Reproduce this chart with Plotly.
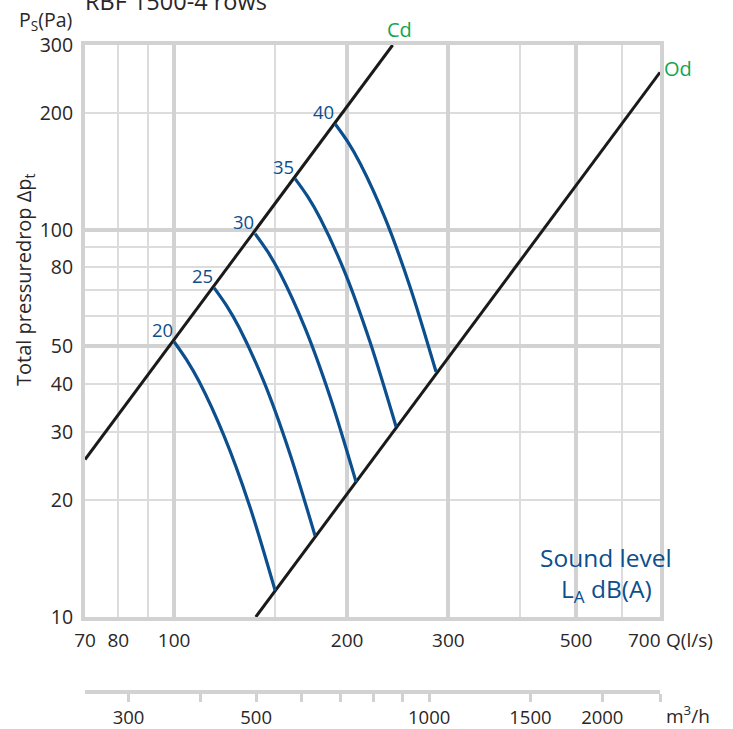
import math
import plotly.graph_objects as go

# ---------------- data ----------------
x_tick_vals = [70, 80, 100, 200, 300, 500]
x_tick_text = ["70", "80", "100", "200", "300", "500"]
x_last_tick = 700
y_tick_vals = [10, 20, 30, 40, 50, 80, 100, 200, 300]
y_tick_text = ["10", "20", "30", "40", "50", "80", "100", "200", "300"]
x_major_grid = [100, 200, 300, 500]
x_minor_grid = [80, 90, 150, 400, 600]
y_major_grid = [50, 100]
y_minor_grid = [20, 30, 40, 60, 70, 80, 90, 200]
m3h_label_vals = [300, 500, 1000, 1500, 2000]
m3h_label_text = ["300", "500", "1000", "1500", "2000"]
m3h_minor_ticks = [400, 600, 700, 800, 900, 2520]

cd_q = [70, 240]
cd_dp = [25.5, 300]
od_q = [138.7, 700]
od_dp = [10, 255]

levels = ["20", "25", "30", "35", "40"]
q_20 = [100.0, 105.1, 110.5, 122.2, 135.1, 149.9]
dp_20 = [51.4, 46.2, 40.6, 29.3, 19.5, 11.7]
q_25 = [117.4, 123.4, 129.7, 143.4, 158.5, 175.9]
dp_25 = [70.8, 63.7, 56.0, 40.4, 26.8, 16.2]
q_30 = [138.3, 145.4, 152.9, 169.0, 186.8, 207.3]
dp_30 = [97.7, 87.9, 77.2, 55.7, 37.0, 22.3]
q_35 = [162.3, 170.7, 179.5, 198.4, 219.2, 243.3]
dp_35 = [135.5, 121.9, 107.1, 77.3, 51.3, 31.0]
q_40 = [190.5, 200.3, 210.6, 232.8, 257.3, 285.5]
dp_40 = [187.9, 169.1, 148.5, 107.2, 71.2, 43.0]

curves_q = [q_20, q_25, q_30, q_35, q_40]
curves_dp = [dp_20, dp_25, dp_30, dp_35, dp_40]

# ---------------- styling ----------------
FONT = "Open Sans"
TXT = "#2a2627"
BLUE = "#0b4f8e"
GREEN = "#12a650"
GRID_THICK = "#d2d2d2"
GRID_THIN = "#dcdcdc"

x_range = [math.log10(70), math.log10(700)]
y_range = [math.log10(10), math.log10(300)]
m3h_factor = 3.6

fig = go.Figure()

fig.add_trace(go.Scatter(x=cd_q, y=cd_dp, mode="lines",
                         line=dict(color="#1a1a1a", width=3), hoverinfo="skip"))
fig.add_trace(go.Scatter(x=od_q, y=od_dp, mode="lines",
                         line=dict(color="#1a1a1a", width=3), hoverinfo="skip"))
for q, dp in zip(curves_q, curves_dp):
    fig.add_trace(go.Scatter(x=q, y=dp, mode="lines",
                             line=dict(color=BLUE, width=3.2, shape="spline", smoothing=0.9),
                             hoverinfo="skip"))

# invisible traces so the overlay axes are drawn
fig.add_trace(go.Scatter(x=[100], y=[100], xaxis="x3", yaxis="y3", mode="markers",
                         marker=dict(opacity=0), hoverinfo="skip"))
fig.add_trace(go.Scatter(x=[1000], y=[100], xaxis="x2", yaxis="y", mode="markers",
                         marker=dict(opacity=0), hoverinfo="skip"))

# level labels
for lab, q, dp in zip(levels, curves_q, curves_dp):
    fig.add_annotation(x=math.log10(q[0]), y=math.log10(dp[0]), xref="x", yref="y",
                       text=lab, showarrow=False, xanchor="right", yanchor="bottom",
                       xshift=1, yshift=-2, font=dict(family=FONT, size=18.5, color=BLUE))

ydom0 = 75 / 647


def px(xp):
    return (xp - 85) / 575


def py(yp):
    return (692 - yp) / 647


# last x tick label, right-aligned against the frame
fig.add_annotation(x=math.log10(x_last_tick), y=py(640), xref="x", yref="paper",
                   text=str(x_last_tick), showarrow=False, xanchor="right", yanchor="middle",
                   xshift=3, font=dict(family=FONT, size=19, color=TXT))

fig.update_layout(
    width=733, height=729,
    margin=dict(l=85, r=73, t=45, b=37, autoexpand=False),
    paper_bgcolor="white", plot_bgcolor="white",
    showlegend=False,
    font=dict(family=FONT, size=19, color=TXT),
    xaxis=dict(type="log", range=x_range, anchor="y", automargin=False,
               tickmode="array", tickvals=x_major_grid, showticklabels=False, ticks="",
               showgrid=True, gridcolor=GRID_THICK, gridwidth=3.5,
               minor=dict(tickmode="array", tickvals=x_minor_grid, showgrid=True,
                          gridcolor=GRID_THIN, gridwidth=1.6, ticks=""),
               showline=True, linecolor=GRID_THICK, linewidth=4, mirror=True,
               zeroline=False),
    xaxis3=dict(type="log", range=x_range, overlaying="x", anchor="y", side="bottom",
                automargin=False,
                tickmode="array", tickvals=x_tick_vals, ticktext=x_tick_text,
                showgrid=False, showline=False, zeroline=False,
                ticks="outside", ticklen=6, tickcolor="rgba(0,0,0,0)",
                tickfont=dict(family=FONT, size=19, color=TXT)),
    xaxis2=dict(type="log",
                range=[x_range[0] + math.log10(m3h_factor), x_range[1] + math.log10(m3h_factor)],
                overlaying="x", anchor="free", position=0, automargin=False,
                tickmode="array", tickvals=m3h_label_vals, ticktext=m3h_label_text,
                showgrid=False, showline=True, linecolor=GRID_THICK, linewidth=3.5,
                ticks="outside", ticklen=8, tickwidth=3, tickcolor=GRID_THICK,
                minor=dict(tickmode="array", tickvals=m3h_minor_ticks, ticks="outside",
                           ticklen=8, tickwidth=3, tickcolor=GRID_THICK, showgrid=False),
                zeroline=False,
                tickfont=dict(family=FONT, size=18.5, color=TXT)),
    yaxis=dict(type="log", range=y_range, domain=[ydom0, 1], anchor="x", automargin=False,
               tickmode="array", tickvals=y_major_grid, showticklabels=False, ticks="",
               showgrid=True, gridcolor=GRID_THICK, gridwidth=3.5,
               minor=dict(tickmode="array", tickvals=y_minor_grid, showgrid=True,
                          gridcolor=GRID_THIN, gridwidth=1.6, ticks=""),
               showline=True, linecolor=GRID_THICK, linewidth=4, mirror=True,
               zeroline=False),
    yaxis3=dict(type="log", range=y_range, overlaying="y", anchor="x", side="left",
                automargin=False,
                tickmode="array", tickvals=y_tick_vals, ticktext=y_tick_text,
                showgrid=False, showline=False, zeroline=False,
                ticks="outside", ticklen=7, tickcolor="rgba(0,0,0,0)",
                tickfont=dict(family=FONT, size=19.5, color=TXT)),
)


def ann(text, x, y, size, color=TXT, xanchor="center", yanchor="middle", angle=0):
    fig.add_annotation(text=text, x=x, y=y, xref="paper", yref="paper",
                       xanchor=xanchor, yanchor=yanchor, showarrow=False, textangle=angle,
                       font=dict(family=FONT, size=size, color=color))


ann("RBF 1500-4 rows", px(83), py(1), 23.5, xanchor="left", yanchor="middle")
ann("P<sub>S</sub>(Pa)", px(17), py(21), 19.5, xanchor="left")
ann("Total pressuredrop Δp<sub>t</sub>", px(24), py(280), 20, angle=-90)
ann("Q(l/s)", px(664), py(640), 19, xanchor="left")
ann("m<sup>3</sup>/h", px(664), py(715), 19, xanchor="left")
ann("Cd", px(399), py(30), 20, color=GREEN)
ann("Od", px(678), py(68), 20, color=GREEN)
ann("Sound level", px(606), py(557), 24.5, color=BLUE)
ann("L<sub>A</sub> dB(A)", px(606), py(590), 24.5, color=BLUE)

fig.write_html("out.html",
               config={"displayModeBar": False},
               post_script="document.body.style.margin='0';document.body.style.overflow='hidden';")
